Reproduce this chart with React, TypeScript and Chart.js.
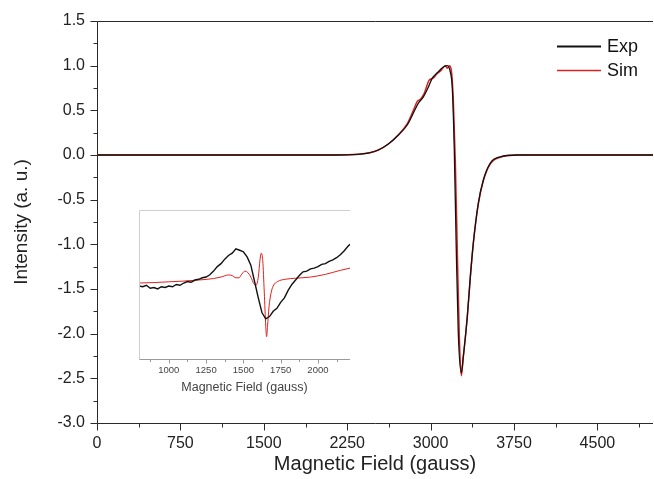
import React, { useEffect, useRef } from 'react';
import { Chart, registerables } from 'chart.js';

Chart.register(...registerables);

const FONT = '"Liberation Sans", Arial, Helvetica, sans-serif';

// ---------- Main spectrum ----------
const expField = [0, 1000, 2000, 2250, 2350, 2450, 2530, 2620, 2710, 2790, 2845, 2890, 2935, 2980, 3015, 3060, 3115, 3150, 3177, 3195, 3213, 3231, 3249, 3276, 3294, 3330, 3357, 3384, 3429, 3474, 3537, 3627, 3780, 5000];
const expIntensity = [0, 0, 0, 0.002, 0.008, 0.025, 0.056, 0.123, 0.224, 0.336, 0.47, 0.58, 0.65, 0.76, 0.86, 0.92, 0.985, 1.0, 0.93, 0.75, 0.06, -1.06, -1.99, -2.44, -2.26, -1.81, -1.37, -0.99, -0.54, -0.28, -0.09, -0.02, 0, 0];

const simField = [0, 2000, 2250, 2350, 2450, 2530, 2620, 2710, 2790, 2845, 2880, 2907, 2943, 2988, 3024, 3051, 3096, 3132, 3150, 3168, 3186, 3204, 3222, 3240, 3258, 3276, 3294, 3330, 3357, 3384, 3429, 3474, 3537, 3627, 3780, 5000];
const simIntensity = [0, 0, 0.002, 0.008, 0.025, 0.056, 0.123, 0.224, 0.35, 0.5, 0.6, 0.62, 0.69, 0.84, 0.86, 0.9, 0.95, 1.0, 0.97, 1.0, 0.95, 0.62, -0.06, -1.06, -2.02, -2.47, -2.26, -1.81, -1.37, -0.99, -0.55, -0.29, -0.1, -0.025, 0, 0];

const mainXTicks = [0, 750, 1500, 2250, 3000, 3750, 4500];
const mainXMinor = [375, 1125, 1875, 2625, 3375, 4125, 4875];
const mainYTicks = [1.5, 1.0, 0.5, 0.0, -0.5, -1.0, -1.5, -2.0, -2.5, -3.0];
const mainYMinor = [1.25, 0.75, 0.25, -0.25, -0.75, -1.25, -1.75, -2.25, -2.75];

// ---------- Inset (arbitrary units) ----------
const insetExpField = [800, 825, 850, 875, 900, 925, 950, 975, 1000, 1025, 1050, 1075, 1100, 1125, 1150, 1175, 1200, 1225, 1250, 1275, 1300, 1325, 1350, 1375, 1400, 1425, 1450, 1475, 1500, 1525, 1550, 1575, 1600, 1625, 1650, 1675, 1700, 1725, 1750, 1775, 1800, 1825, 1850, 1875, 1900, 1925, 1950, 1975, 2000, 2025, 2050, 2075, 2100, 2125, 2150, 2175, 2200, 2215];
const insetExpValue = [49, 48.5, 49.5, 47.5, 48, 47, 48.5, 48, 49, 48.5, 50, 49.5, 51, 52, 51.5, 53, 53.5, 54.5, 55, 56.5, 59, 62, 64, 67, 69.5, 71, 74, 73, 72, 68.5, 63, 52, 41, 31, 27, 28.5, 32, 34, 38, 41, 46, 50, 53, 56, 58.5, 59, 60.5, 61, 62, 63.5, 64, 65.5, 66.5, 68, 70, 72.5, 75.5, 77];

const insetSimField = [800, 900, 1000, 1100, 1200, 1300, 1350, 1400, 1425, 1450, 1470, 1490, 1510, 1530, 1550, 1570, 1585, 1600, 1612, 1620, 1630, 1640, 1650, 1656, 1662, 1672, 1685, 1700, 1730, 1780, 1850, 1950, 2050, 2150, 2215];
const insetSimValue = [51, 51.3, 51.8, 52.3, 53, 54, 55, 56.4, 56, 54.5, 54.5, 57, 59, 58, 55, 50.5, 49.5, 55, 67, 71, 66, 45, 22, 15, 22, 35, 44, 49, 52, 53.5, 54.2, 55, 56.8, 59.5, 61];

const insetXTicks = [1000, 1250, 1500, 1750, 2000];
const insetXMinor = [875, 1125, 1375, 1625, 1875, 2125];

const toPoints = (xs: number[], ys: number[]) => xs.map((x, i) => ({ x, y: ys[i] }));

const mainAxesPlugin = {
  id: 'mainAxes',
  afterDraw(chart: any) {
    const { ctx, chartArea: a, scales } = chart;
    const x = scales.x;
    const y = scales.y;
    const L = Math.round(a.left) + 0.5;
    const B = Math.round(a.bottom) + 0.5;
    const T = Math.round(a.top) + 0.5;
    ctx.save();
    ctx.strokeStyle = '#2a2a2a';
    ctx.lineWidth = 1;
    ctx.beginPath();
    ctx.moveTo(L, T);
    ctx.lineTo(a.right, T);
    ctx.moveTo(L, T);
    ctx.lineTo(L, B);
    ctx.lineTo(a.right, B);
    mainYTicks.forEach((v) => {
      const p = Math.round(y.getPixelForValue(v)) + 0.5;
      ctx.moveTo(L - 7, p);
      ctx.lineTo(L, p);
    });
    mainYMinor.forEach((v) => {
      const p = Math.round(y.getPixelForValue(v)) + 0.5;
      ctx.moveTo(L - 4, p);
      ctx.lineTo(L, p);
    });
    mainXTicks.forEach((v) => {
      const p = Math.round(x.getPixelForValue(v)) + 0.5;
      ctx.moveTo(p, B);
      ctx.lineTo(p, B + 7);
    });
    mainXMinor.forEach((v) => {
      const p = Math.round(x.getPixelForValue(v)) + 0.5;
      ctx.moveTo(p, B);
      ctx.lineTo(p, B + 4);
    });
    ctx.stroke();

    // legend
    const lx0 = a.right - 96;
    const lx1 = a.right - 52;
    const items = [
      { label: 'Exp', color: '#111111', width: 2, y: a.top + 25.5 },
      { label: 'Sim', color: '#e0201e', width: 1.3, y: a.top + 49.5 },
    ];
    ctx.font = `18px ${FONT}`;
    ctx.textBaseline = 'middle';
    ctx.textAlign = 'left';
    items.forEach((it) => {
      ctx.strokeStyle = it.color;
      ctx.lineWidth = it.width;
      ctx.beginPath();
      ctx.moveTo(lx0, it.y);
      ctx.lineTo(lx1, it.y);
      ctx.stroke();
      ctx.fillStyle = '#111';
      ctx.fillText(it.label, lx1 + 6, it.y + 1);
    });
    ctx.restore();
  },
};

const insetAxesPlugin = {
  id: 'insetAxes',
  afterDraw(chart: any) {
    const { ctx, chartArea: a, scales } = chart;
    const x = scales.x;
    const L = Math.round(a.left) + 0.5;
    const B = Math.round(a.bottom) + 0.5;
    const T = Math.round(a.top) + 0.5;
    ctx.save();
    ctx.lineWidth = 1;
    ctx.strokeStyle = '#cfcfcf';
    ctx.beginPath();
    ctx.moveTo(a.right, T);
    ctx.lineTo(L, T);
    ctx.lineTo(L, B);
    ctx.stroke();
    ctx.strokeStyle = '#9a9a9a';
    ctx.beginPath();
    ctx.moveTo(L, B);
    ctx.lineTo(a.right, B);
    insetXTicks.forEach((v) => {
      const p = Math.round(x.getPixelForValue(v)) + 0.5;
      ctx.moveTo(p, B);
      ctx.lineTo(p, B + 4);
    });
    insetXMinor.forEach((v) => {
      const p = Math.round(x.getPixelForValue(v)) + 0.5;
      ctx.moveTo(p, B);
      ctx.lineTo(p, B + 2.5);
    });
    ctx.stroke();
    ctx.restore();
  },
};

export default function App() {
  const mainRef = useRef<HTMLCanvasElement | null>(null);
  const insetRef = useRef<HTMLCanvasElement | null>(null);

  useEffect(() => {
    const mainChart = new Chart(mainRef.current as HTMLCanvasElement, {
      type: 'line',
      data: {
        datasets: [
          {
            label: 'Exp',
            data: toPoints(expField, expIntensity),
            borderColor: '#111111',
            borderWidth: 1.3,
            pointRadius: 0,
            cubicInterpolationMode: 'monotone',
            fill: false,
          },
          {
            label: 'Sim',
            data: toPoints(simField, simIntensity),
            borderColor: '#e0201e',
            borderWidth: 1.5,
            pointRadius: 0,
            cubicInterpolationMode: 'monotone',
            fill: false,
          },
        ],
      },
      options: {
        animation: false,
        responsive: false,
        events: [],
        layout: { padding: { top: 21, right: 1, left: 0, bottom: 0 } },
        plugins: { legend: { display: false }, tooltip: { enabled: false } },
        scales: {
          x: {
            type: 'linear',
            min: 0,
            max: 5000,
            afterBuildTicks: (s: any) => {
              s.ticks = mainXTicks.map((v) => ({ value: v }));
            },
            afterFit: (s: any) => {
              s.height = 56;
            },
            grid: { display: false, drawTicks: true, tickLength: 7 },
            border: { display: false },
            ticks: {
              autoSkip: false,
              maxRotation: 0,
              padding: 4,
              color: '#222',
              font: { family: FONT, size: 16 },
              callback: (v: any) => String(v),
            },
            title: {
              display: true,
              text: 'Magnetic Field (gauss)',
              color: '#222',
              font: { family: FONT, size: 20 },
              padding: { top: 0, bottom: 3 },
            },
          },
          y: {
            type: 'linear',
            min: -3,
            max: 1.5,
            afterBuildTicks: (s: any) => {
              s.ticks = mainYTicks.map((v) => ({ value: v }));
            },
            afterFit: (s: any) => {
              s.width = 97;
            },
            grid: { display: false, drawTicks: true, tickLength: 7 },
            border: { display: false },
            ticks: {
              autoSkip: false,
              padding: 5,
              color: '#222',
              font: { family: FONT, size: 16 },
              callback: (v: any) => Number(v).toFixed(1),
            },
            title: {
              display: true,
              text: 'Intensity (a. u.)',
              color: '#222',
              font: { family: FONT, size: 19 },
              padding: { top: 10, bottom: 0 },
            },
          },
        },
      } as any,
      plugins: [mainAxesPlugin],
    });

    const insetChart = new Chart(insetRef.current as HTMLCanvasElement, {
      type: 'line',
      data: {
        datasets: [
          {
            label: 'Exp',
            data: toPoints(insetExpField, insetExpValue),
            borderColor: '#111111',
            borderWidth: 1.4,
            pointRadius: 0,
            tension: 0,
            fill: false,
          },
          {
            label: 'Sim',
            data: toPoints(insetSimField, insetSimValue),
            borderColor: '#e0201e',
            borderWidth: 1,
            pointRadius: 0,
            cubicInterpolationMode: 'monotone',
            fill: false,
          },
        ],
      },
      options: {
        animation: false,
        responsive: false,
        events: [],
        layout: { padding: { top: 20, right: 10, left: 39, bottom: 0 } },
        plugins: { legend: { display: false }, tooltip: { enabled: false } },
        scales: {
          x: {
            type: 'linear',
            min: 800,
            max: 2215,
            afterBuildTicks: (s: any) => {
              s.ticks = insetXTicks.map((v) => ({ value: v }));
            },
            afterFit: (s: any) => {
              s.height = 41;
            },
            grid: { display: false, drawTicks: true, tickLength: 4 },
            border: { display: false },
            ticks: {
              autoSkip: false,
              maxRotation: 0,
              padding: 2,
              color: '#444',
              font: { family: FONT, size: 9.5 },
              callback: (v: any) => String(v),
            },
            title: {
              display: true,
              text: 'Magnetic Field (gauss)',
              color: '#444',
              font: { family: FONT, size: 12.5 },
              padding: { top: 0, bottom: 5 },
            },
          },
          y: {
            type: 'linear',
            display: false,
            min: 0,
            max: 100,
          },
        },
      } as any,
      plugins: [insetAxesPlugin],
    });

    return () => {
      mainChart.destroy();
      insetChart.destroy();
    };
  }, []);

  return (
    <div style={{ position: 'fixed', left: 0, top: 0, width: 654, height: 479, background: '#ffffff' }}>
      <canvas ref={mainRef} width={654} height={479} style={{ position: 'absolute', left: 0, top: 0, width: 654, height: 479 }} />
      <canvas ref={insetRef} width={260} height={210} style={{ position: 'absolute', left: 100, top: 190, width: 260, height: 210 }} />
    </div>
  );
}
